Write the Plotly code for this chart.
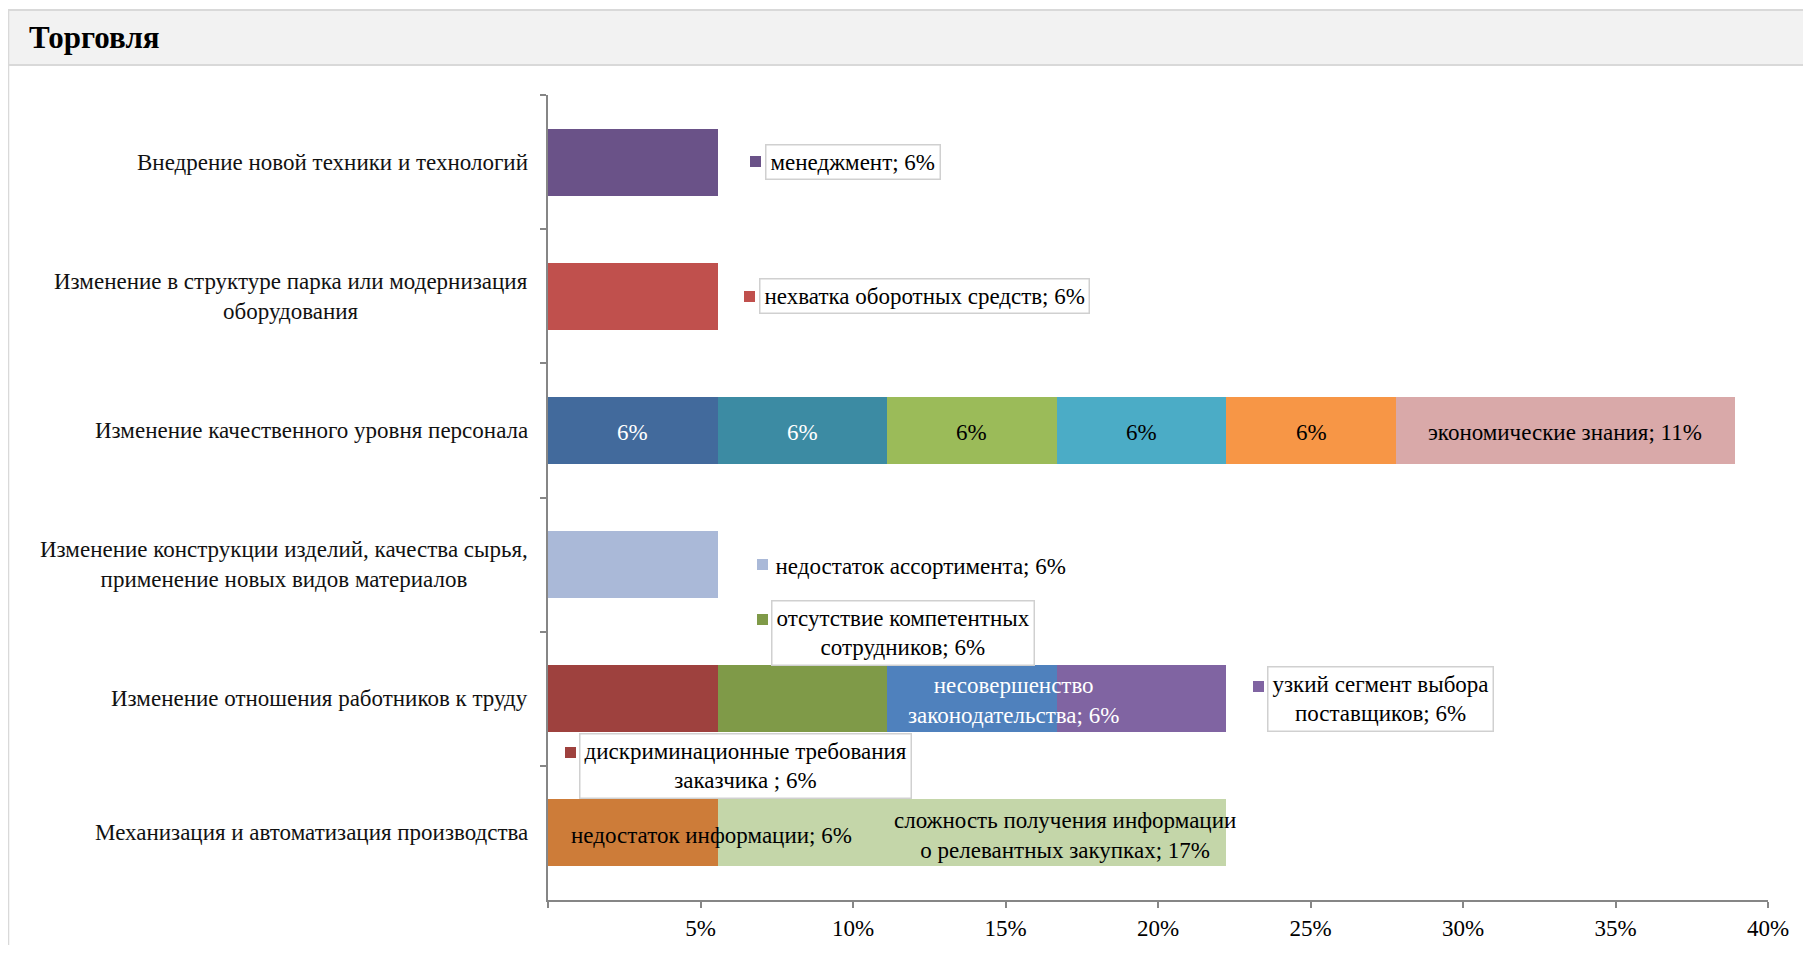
import plotly.graph_objects as go

# ── Data ──────────────────────────────────────────────────────────────────────

CATEGORIES = [
    "Внедрение новой техники и технологий",
    "Изменение в структуре парка или модернизация<br>оборудования",
    "Изменение качественного уровня персонала",
    "Изменение конструкции изделий, качества сырья,<br>применение новых видов материалов",
    "Изменение отношения работников к труду",
    "Механизация и автоматизация производства",
]

SEG_CATEGORY = [0, 1, 2, 2, 2, 2, 2, 2, 3, 4, 4, 4, 4, 5, 5]
SEG_VALUE = [5.56, 5.56, 5.56, 5.56, 5.56, 5.56, 5.56, 11.11,
             5.56, 5.56, 5.56, 5.56, 5.56, 5.56, 16.67]
SEG_LABEL = [
    "менеджмент; 6%",
    "нехватка оборотных средств; 6%",
    "6%", "6%", "6%", "6%", "6%",
    "экономические знания; 11%",
    "недостаток ассортимента; 6%",
    "дискриминационные требования<br>заказчика ; 6%",
    "отсутствие компетентных<br>сотрудников; 6%",
    "несовершенство<br>законодательства; 6%",
    "узкий сегмент выбора<br>поставщиков; 6%",
    "недостаток информации; 6%",
    "сложность получения информации<br>о релевантных закупках; 17%",
]

X_TICKVALS = [0, 5, 10, 15, 20, 25, 30, 35, 40]
X_TICKTEXT = ["", "5%", "10%", "15%", "20%", "25%", "30%", "35%", "40%"]

# ── Style ─────────────────────────────────────────────────────────────────────

SEG_COLOR = [
    "#6a5288", "#c0504d",
    "#426a9c", "#3c8ba3", "#9bbb59", "#4bacc6", "#f79646", "#d9a9a9",
    "#aab9d8",
    "#9e413e", "#7f9a48", "#4f81bd", "#8064a2",
    "#cd7c39", "#c4d6a9",
]

FONT = "Liberation Serif"
FS = 23
AXIS_GREY = "#868686"
BOX_GREY = "#d0d0d0"

# page is offset 8px by the body margin, so the figure is drawn 16px smaller
W, H = 1795, 937

# how each segment label is drawn: inside text, boxed callout or plain callout
# at = anchor on the segment, dx/dy = pixel shift of text, mdx/mdy = key square
LABEL_STYLE = {
    0: dict(kind="box", at="end", dx=47, dy=0, mdx=38, mdy=1),
    1: dict(kind="box", at="end", dx=41, dy=0, mdx=32, mdy=0),
    2: dict(kind="in", dx=0, dy=-2, color="white"),
    3: dict(kind="in", dx=0, dy=-2, color="white"),
    4: dict(kind="in", dx=0, dy=-2, color="black"),
    5: dict(kind="in", dx=0, dy=-2, color="black"),
    6: dict(kind="in", dx=0, dy=-2, color="black"),
    7: dict(kind="in", dx=0, dy=-2, color="black"),
    8: dict(kind="plain", at="end", dx=52, dy=-1, mdx=45, mdy=0),
    9: dict(kind="box", at="start", dx=31, dy=-67, mdx=22, mdy=-54),
    10: dict(kind="box", at="start", dx=53, dy=66, mdx=45, mdy=79),
    11: dict(kind="in", dx=42, dy=-2, color="white"),
    12: dict(kind="box", at="end", dx=41, dy=0, mdx=32, mdy=12),
    13: dict(kind="in", dx=79, dy=-3, color="black"),
    14: dict(kind="in", dx=93, dy=-3, color="black"),
}

# ── Figure ────────────────────────────────────────────────────────────────────

fig = go.Figure()

starts = []
running = [0.0] * len(CATEGORIES)
for i, v in enumerate(SEG_VALUE):
    c = SEG_CATEGORY[i]
    starts.append(running[c])
    running[c] += v
    fig.add_trace(go.Bar(
        x=[v], y=[CATEGORIES[c]],
        orientation="h",
        marker=dict(color=SEG_COLOR[i], line=dict(width=0)),
        showlegend=False,
        hovertemplate=f"{SEG_LABEL[i].replace('<br>', ' ')}<extra></extra>",
    ))

annotations = []
for i, text in enumerate(SEG_LABEL):
    st = LABEL_STYLE[i]
    cat = CATEGORIES[SEG_CATEGORY[i]]
    s, v = starts[i], SEG_VALUE[i]
    if st["kind"] == "in":
        annotations.append(dict(
            x=s + v / 2, y=cat, text=text, showarrow=False,
            xshift=st["dx"], yshift=st["dy"], align="center",
            font=dict(family=FONT, size=FS, color=st["color"]),
        ))
        continue
    ax = s + v if st["at"] == "end" else s
    annotations.append(dict(
        x=ax, y=cat, text=text, showarrow=False,
        xanchor="left", xshift=st["dx"], yshift=st["dy"], align="center",
        font=dict(family=FONT, size=FS, color="black"),
        bgcolor="white",
        bordercolor=BOX_GREY if st["kind"] == "box" else "rgba(0,0,0,0)",
        borderwidth=1.5, borderpad=4,
    ))
    annotations.append(dict(
        x=ax, y=cat, text=" ", showarrow=False,
        xshift=st["mdx"], yshift=st["mdy"],
        width=11, height=11, borderpad=0, borderwidth=0,
        bgcolor=SEG_COLOR[i], font=dict(size=6),
    ))

# category labels, centred line by line like the original
for cat in CATEGORIES:
    annotations.append(dict(
        x=0, xref="paper", y=cat, text=cat, showarrow=False,
        xanchor="right", xshift=-18, align="center",
        font=dict(family=FONT, size=FS, color="#111111"),
    ))

# frame + grey header band (paper coords; plot area spans px 540..1760 / 87..892)
shapes = [
    dict(type="rect", xref="paper", yref="paper",
         x0=-0.4424, x1=1.1, y0=-0.2, y1=1.1056,
         line=dict(color="#d9d9d9", width=2), fillcolor="rgba(0,0,0,0)", layer="below"),
    dict(type="rect", xref="paper", yref="paper",
         x0=-0.4424, x1=1.1, y0=1.0373, y1=1.1056,
         line=dict(color="#d9d9d9", width=2), fillcolor="#f2f2f2", layer="below"),
]

fig.update_layout(
    width=W, height=H,
    margin=dict(l=540, r=W - 1760, t=87, b=H - 892),
    paper_bgcolor="white", plot_bgcolor="white",
    barmode="stack", bargap=0.5,
    font=dict(family=FONT, size=FS, color="black"),
    title=dict(
        text="<b>Торговля</b>",
        font=dict(family=FONT, size=31, color="black"),
        x=21 / W, xanchor="left", xref="container",
        y=1 - 29 / H, yanchor="middle", yref="container",
        automargin=False,
    ),
    xaxis=dict(
        range=[0, 40], tickvals=X_TICKVALS, ticktext=X_TICKTEXT,
        showgrid=False, zeroline=False, automargin=False,
        showline=True, linecolor=AXIS_GREY, linewidth=1.5,
        ticks="outside", ticklen=6, tickcolor=AXIS_GREY, tickwidth=1.5,
        ticklabelstandoff=1,
        tickfont=dict(family=FONT, size=FS, color="black"),
    ),
    yaxis=dict(
        type="category", categoryorder="array", categoryarray=CATEGORIES,
        autorange="reversed", automargin=False,
        showgrid=False, zeroline=False, showticklabels=False,
        showline=True, linecolor=AXIS_GREY, linewidth=1.5,
        ticks="outside", tickson="boundaries", ticklen=6,
        tickcolor=AXIS_GREY, tickwidth=1.5,
    ),
    annotations=annotations,
    shapes=shapes,
)

fig.write_html("out.html")
